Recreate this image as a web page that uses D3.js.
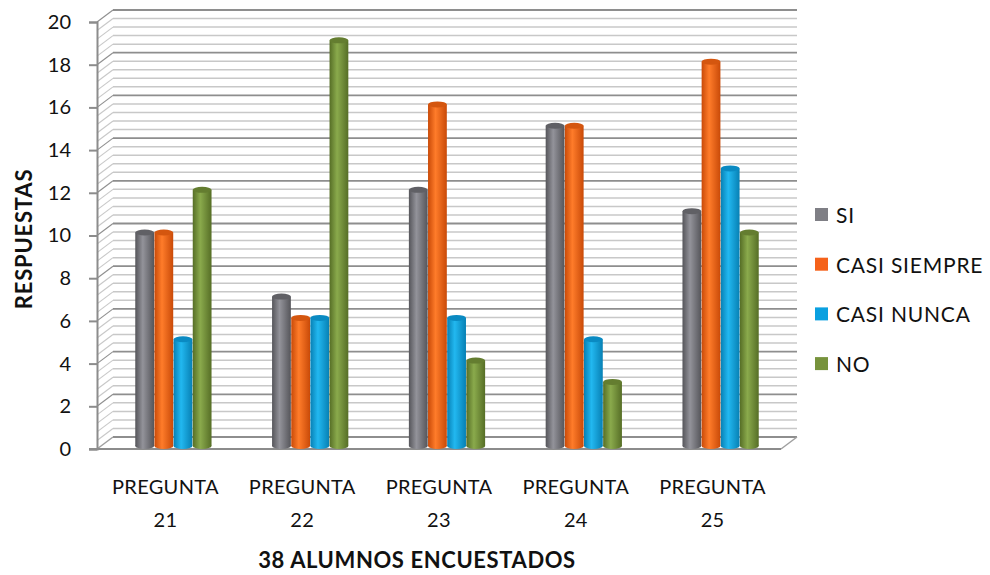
<!DOCTYPE html>
<html>
<head>
<meta charset="utf-8">
<script src="https://cdn.jsdelivr.net/npm/d3@7"></script>
<style>
  body { margin: 0; background: #fff; }
  text { font-family: Lato, "Open Sans", sans-serif; fill: #111; }
</style>
</head>
<body>
<div id="chart"></div>
<script>
//data
let categories = ["PREGUNTA 21", "PREGUNTA 22", "PREGUNTA 23", "PREGUNTA 24", "PREGUNTA 25"];
let seriesNames = ["SI", "CASI SIEMPRE", "CASI NUNCA", "NO"];
let si = [10, 7, 12, 15, 11];
let casiSiempre = [10, 6, 16, 15, 18];
let casiNunca = [5, 6, 6, 5, 13];
let no = [12, 19, 4, 3, 10];
let yTicks = [0, 2, 4, 6, 8, 10, 12, 14, 16, 18, 20];

let seriesValues = [si, casiSiempre, casiNunca, no];

//colours: [legend, dark edge, light middle, top cap]
let palette = [
    ["#7f7f85", "#55555a", "#93939a", "#606065"],
    ["#f5621a", "#c94a08", "#ff7c2a", "#d4560f"],
    ["#0aa0e0", "#0780b4", "#22b8f0", "#0a8ac2"],
    ["#77933c", "#566e26", "#8aaa4c", "#647d30"]
];

let width = 990, height = 575;
//3d depth offset of the back wall
let dx = 16, dy = -12;

let svg = d3.select("#chart")
    .append("svg")
    .attr("width", width)
    .attr("height", height);

let defs = svg.append("defs");
palette.forEach(function(p, i) {
    let g = defs.append("linearGradient")
        .attr("id", "cyl" + i)
        .attr("x1", "0%").attr("x2", "100%")
        .attr("y1", "0%").attr("y2", "0%");
    g.append("stop").attr("offset", "0%").attr("stop-color", p[1]);
    g.append("stop").attr("offset", "40%").attr("stop-color", p[2]);
    g.append("stop").attr("offset", "100%").attr("stop-color", p[1]);
});

//scales (front plane)
let y = d3.scaleLinear().domain([0, 20]).range([449, 22]);
let x0 = d3.scaleBand().domain(categories).range([97, 781])
    .paddingInner(0.437).paddingOuter(0.2185);
let x1 = d3.scaleBand().domain(seriesNames).range([0, x0.bandwidth()]).padding(0.02);

//gridlines on back wall and left wall (minor every 0.4, major every 2)
let gridVals = d3.range(0, 51).map(i => Math.round(i * 0.4 * 10) / 10);
let isMajor = d => Math.abs(d / 2 - Math.round(d / 2)) < 1e-6;
let grid = svg.append("g");
grid.selectAll("line.back").data(gridVals).enter()
    .append("line")
    .attr("x1", 97 + dx).attr("x2", 781 + dx)
    .attr("y1", d => y(d) + dy).attr("y2", d => y(d) + dy)
    .attr("stroke", d => isMajor(d) ? "#8e8e8e" : "#c8c8c8")
    .attr("stroke-width", d => isMajor(d) ? 1.8 : 1.5);
grid.selectAll("line.side").data(gridVals.filter(d => d > 0)).enter()
    .append("line")
    .attr("x1", 97).attr("x2", 97 + dx)
    .attr("y1", d => y(d)).attr("y2", d => y(d) + dy)
    .attr("stroke", d => isMajor(d) ? "#8e8e8e" : "#c8c8c8")
    .attr("stroke-width", 1.1);

//floor
svg.append("path")
    .attr("d", `M97,${y(0)} L${97 + dx},${y(0) + dy} M781,${y(0)} L${781 + dx},${y(0) + dy}`)
    .attr("stroke", "#a0a0a0").attr("stroke-width", 1.5).attr("fill", "none");

//y axis
let yAxis = svg.append("g")
    .attr("transform", "translate(97,0)")
    .call(d3.axisLeft(y).tickValues(yTicks).tickSize(8).tickPadding(18));
yAxis.select(".domain").attr("stroke", "#8c8c8c").attr("stroke-width", 2);
yAxis.selectAll(".tick line").attr("stroke", "#8c8c8c").attr("stroke-width", 2);
yAxis.selectAll("text").style("font-size", "20px").attr("fill", "#111");

//front floor line
svg.append("line")
    .attr("x1", 89).attr("x2", 781)
    .attr("y1", y(0)).attr("y2", y(0))
    .attr("stroke", "#8c8c8c").attr("stroke-width", 2);

//bars as cylinders, sitting at mid depth
let bx = dx / 2, by = -3;
let rows = [];
categories.forEach(function(c, ci) {
    seriesNames.forEach(function(s, si2) {
        rows.push({cat: c, series: s, idx: si2, value: seriesValues[si2][ci]});
    });
});

let bars = svg.append("g").selectAll("g").data(rows).enter().append("g");
let ry = 3;
bars.append("ellipse")
    .attr("cx", d => x0(d.cat) + x1(d.series) + bx + x1.bandwidth() / 2)
    .attr("cy", y(0) + by)
    .attr("rx", x1.bandwidth() / 2)
    .attr("ry", ry)
    .attr("fill", d => "url(#cyl" + d.idx + ")");
bars.append("rect")
    .attr("x", d => x0(d.cat) + x1(d.series) + bx)
    .attr("y", d => y(d.value) + by)
    .attr("width", x1.bandwidth())
    .attr("height", d => y(0) - y(d.value))
    .attr("fill", d => "url(#cyl" + d.idx + ")");
bars.append("ellipse")
    .attr("cx", d => x0(d.cat) + x1(d.series) + bx + x1.bandwidth() / 2)
    .attr("cy", d => y(d.value) + by)
    .attr("rx", x1.bandwidth() / 2)
    .attr("ry", ry)
    .attr("fill", d => palette[d.idx][3]);

//category labels
let catLabels = svg.append("g").selectAll("text").data(categories).enter()
    .append("text")
    .attr("x", d => x0(d) + x0.bandwidth() / 2)
    .attr("y", 494)
    .style("text-anchor", "middle")
    .style("font-size", "20px")
    .style("letter-spacing", "0.3px");
catLabels.append("tspan").text(d => d.split(" ")[0]);
catLabels.append("tspan")
    .attr("x", d => x0(d) + x0.bandwidth() / 2)
    .attr("dy", 33)
    .text(d => d.split(" ")[1]);

//x label
svg.append("text")
    .attr("x", 417).attr("y", 568)
    .style("text-anchor", "middle")
    .style("font-size", "22px")
    .style("font-weight", "bold")
    .style("letter-spacing", "0.6px")
    .text("38 ALUMNOS ENCUESTADOS");

//y label
svg.append("text")
    .attr("transform", "translate(32,239) rotate(-90)")
    .style("text-anchor", "middle")
    .style("font-size", "22px")
    .style("font-weight", "bold")
    .style("letter-spacing", "0.8px")
    .text("RESPUESTAS");

//legend
let legend = svg.append("g").selectAll("g").data(seriesNames).enter()
    .append("g")
    .attr("transform", (d, i) => `translate(815,${215 + i * 49.7})`);
legend.append("rect")
    .attr("x", 0).attr("y", -7)
    .attr("width", 13).attr("height", 13)
    .attr("fill", (d, i) => palette[i][0]);
legend.append("text")
    .attr("x", 21).attr("y", 8)
    .style("font-size", "21px")
    .style("letter-spacing", "0.8px")
    .text(d => d);
</script>
</body>
</html>
